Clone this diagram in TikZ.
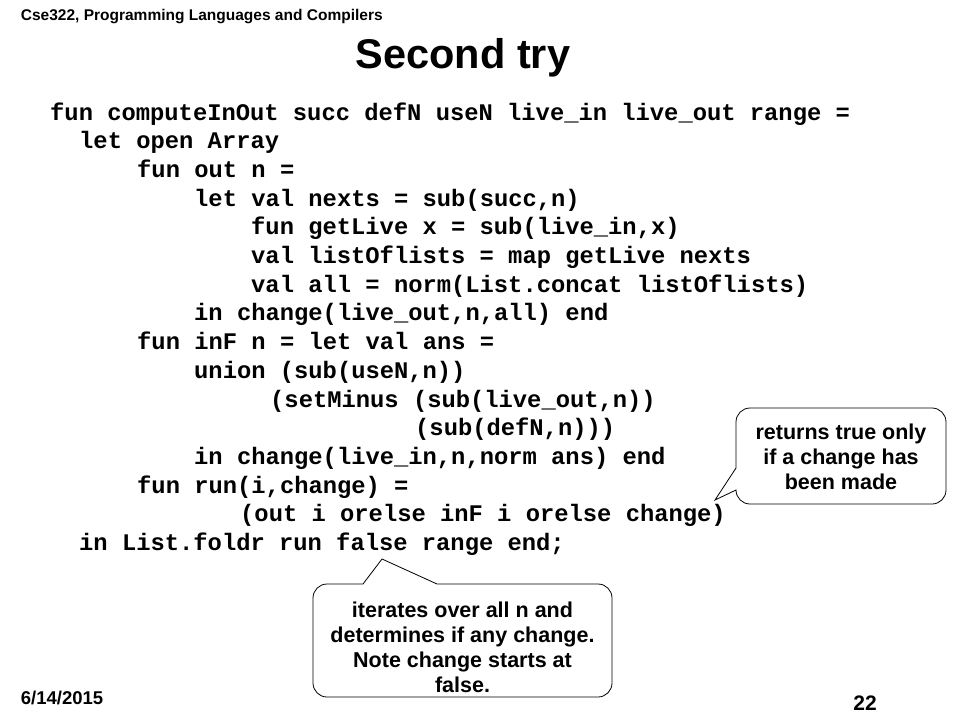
\documentclass[tikz,border=0pt]{standalone}
\usepackage{fontspec}
\setmainfont{Liberation Sans}
\newfontfamily\codefont{Liberation Mono}
\usepackage{tikz}
\usetikzlibrary{positioning}
\usepackage{xcolor}
\definecolor{textdark}{RGB}{0, 0, 0}

\begin{document}
\begin{tikzpicture}[
    x=1pt, y=-1pt,
    codeline/.style={anchor=base west, inner sep=0pt, color=textdark, font=\codefont\bfseries\fontsize{23.8}{28.7}\selectfont},
    note/.style={align=center, inner sep=0pt, color=textdark, font=\bfseries\fontsize{21.5}{25}\selectfont},
    bubble/.style={draw=textdark, fill=white, line width=0.8pt},
    slidetext/.style={inner sep=0pt, color=textdark, font=\bfseries}
]
\useasboundingbox (0,0) rectangle (960,720);

% Header and title
\node[slidetext, anchor=base west, font=\bfseries\fontsize{15.5}{18}\selectfont] (course) at (20.7, 20.7) {Cse322, Programming Languages and Compilers};
\node[slidetext, anchor=base, font=\bfseries\fontsize{41.5}{48}\selectfont] (title) at (463, 68) {Second try};

% Code
\node[codeline] (line1) at (50, 120) {fun computeInOut succ defN useN live\_in live\_out range =};
\node[codeline] (line2) at (79, 148.7) {let open Array};
\node[codeline] (line3) at (137, 177.4) {fun out n =};
\node[codeline] (line4) at (194, 206.1) {let val nexts = sub(succ,n)};
\node[codeline] (line5) at (251, 234.8) {fun getLive x = sub(live\_in,x)};
\node[codeline] (line6) at (251, 263.5) {val listOflists = map getLive nexts};
\node[codeline] (line7) at (251, 292.2) {val all = norm(List.concat listOflists)};
\node[codeline] (line8) at (194, 320.9) {in change(live\_out,n,all) end};
\node[codeline] (line9) at (137, 349.6) {fun inF n = let val ans =};
\node[codeline] (line10) at (194, 378.3) {union (sub(useN,n))};
\node[codeline] (line11) at (270, 407) {(setMinus (sub(live\_out,n))};
\node[codeline] (line12) at (415, 435.7) {(sub(defN,n)))};
\node[codeline] (line13) at (194, 464.4) {in change(live\_in,n,norm ans) end};
\node[codeline] (line14) at (137, 493.1) {fun run(i,change) =};
\node[codeline] (line15) at (240, 521.8) {(out i orelse inF i orelse change)};
\node[codeline] (line16) at (79, 550.5) {in List.foldr run false range end;};

% Callout on the right
\coordinate (tip1) at (715, 500);
\draw[bubble] (736, 468) -- (tip1) -- (736, 490) [rounded corners=14pt] -- (736, 504) -- (946, 504) -- (946, 408) -- (736, 408) -- (736, 468);
\node[note] (note1) at (841, 457) {returns true only\\if a change has\\been made};

% Callout below
\coordinate (tip2) at (382, 559);
\draw[bubble] (363, 584) -- (tip2) -- (437, 584) [rounded corners=14pt] -- (612, 584) -- (612, 697) -- (313, 697) -- (313, 584) -- (363, 584);
\node[note] (note2) at (462.5, 647) {iterates over all n and\\determines if any change.\\Note change starts at\\false.};

% Footer
\node[slidetext, anchor=base west, font=\bfseries\fontsize{18.5}{22}\selectfont] (date) at (20.7, 704) {6/14/2015};
\node[slidetext, anchor=base, font=\bfseries\fontsize{21}{25}\selectfont] (page) at (865, 710) {22};

\end{tikzpicture}
\end{document}
